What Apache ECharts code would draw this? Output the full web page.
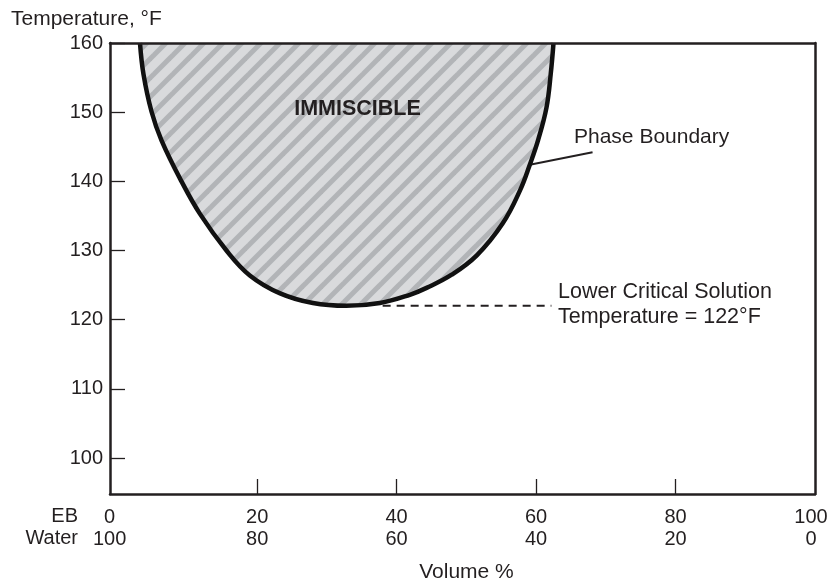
<!DOCTYPE html>
<html>
<head>
<meta charset="utf-8">
<title>Ethylbenzene / Water Miscibility</title>
<script src="https://cdn.jsdelivr.net/npm/echarts@6/dist/echarts.min.js"></script>
<style>
  html, body { margin: 0; padding: 0; background: #ffffff; }
  #chart { width: 827px; height: 581px; }
</style>
</head>
<body>
<div id="chart"></div>
<script>
// Axis ranges (volume % EB on x, temperature °F on y)
const X_MIN = -1.1;
const X_MAX = 100;
const Y_MIN = 94.8;
const Y_MAX = 160;

// Tick labels: EB volume % (top row) and water volume % (bottom row)
const ebTicks = [0, 20, 40, 60, 80, 100];
const waterTicks = [100, 80, 60, 40, 20, 0];
const xTickMarks = [20, 40, 60, 80];
const tempTicks = [100, 110, 120, 130, 140, 150, 160];

// Phase boundary: [volume % EB, temperature °F]
const boundaryEB = [3.2, 3.7, 4.85, 6.3, 9.15, 11.8, 15.6, 18.95, 23.3, 28.0, 32.8, 37.6, 41.9, 44.3, 47.9, 51.5, 55.2, 57.7, 59.1, 60.3, 61.5, 62.1, 62.5];
const boundaryTemp = [160, 155.5, 150.1, 145.9, 140.0, 135.3, 130.0, 126.4, 123.8, 122.4, 122.0, 122.4, 123.6, 124.6, 126.5, 129.3, 133.9, 138.7, 142.4, 146.0, 150.7, 155.5, 160];

// Lower critical solution temperature and its dashed guide span
const lcst = 122;
const lcstGuideEB = [38.0, 62.2];

// Leader from the boundary to its caption
const leaderEB = [59.1, 68.1];
const leaderTemp = [142.4, 144.2];

const INK = '#231f20';
const FONT = '"Liberation Sans", Arial, Helvetica, sans-serif';

// Diagonal hatch tile for the immiscible region
function hatchTile() {
  const s = 19;
  const c = document.createElement('canvas');
  c.width = s; c.height = s;
  const g = c.getContext('2d');
  g.fillStyle = '#d9dadc';
  g.fillRect(0, 0, s, s);
  g.strokeStyle = '#b2b4b7';
  g.lineWidth = 5;
  for (let k = -1; k <= 1; k++) {
    g.beginPath();
    g.moveTo(k * s - 2, s + 2);
    g.lineTo(k * s + s + 2, -2);
    g.stroke();
  }
  return c;
}

const boundary = boundaryEB.map((x, i) => [x, boundaryTemp[i]]);
const lcstGuide = lcstGuideEB.map(x => [x, lcst]);
const leader = leaderEB.map((x, i) => [x, leaderTemp[i]]);

const chart = echarts.init(document.getElementById('chart'), null, { renderer: 'canvas' });

// The end labels are nudged so they sit on the frame corners
const labelRich = {
  m: { fontSize: 20, lineHeight: 22, color: INK, fontFamily: FONT },
  first: { fontSize: 20, lineHeight: 22, color: INK, fontFamily: FONT, padding: [0, 16, 0, 0] },
  last: { fontSize: 20, lineHeight: 22, color: INK, fontFamily: FONT, padding: [0, 8, 0, 0] }
};

const option = {
  animation: false,
  backgroundColor: '#ffffff',
  textStyle: { fontFamily: FONT, color: INK },
  grid: { left: 110, right: 12, top: 43, bottom: 87, containLabel: false, outerBoundsMode: 'none' },
  xAxis: [
    {
      type: 'value', position: 'bottom', min: X_MIN, max: X_MAX, z: 10,
      axisLine: { show: true, onZero: false, lineStyle: { color: INK, width: 2.5 } },
      axisTick: { show: true, inside: true, length: 15, customValues: xTickMarks, lineStyle: { color: INK, width: 1.3 } },
      axisLabel: {
        show: true, customValues: ebTicks, margin: 12.5,
        fontSize: 20, lineHeight: 22, color: INK, fontFamily: FONT, rich: labelRich,
        formatter: v => {
          const i = ebTicks.indexOf(v);
          const key = i === 0 ? 'first' : (i === ebTicks.length - 1 ? 'last' : 'm');
          return '{' + key + '|' + ebTicks[i] + '}\n{' + key + '|' + waterTicks[i] + '}';
        }
      },
      splitLine: { show: false },
      name: 'Volume %', nameLocation: 'middle', nameGap: 68, nameMoveOverlap: false,
      nameTextStyle: { fontSize: 21, color: INK, fontFamily: FONT, padding: [0, 0, 0, 8] }
    },
    {
      type: 'value', position: 'top', min: X_MIN, max: X_MAX, z: 10,
      axisLine: { show: true, onZero: false, lineStyle: { color: INK, width: 2.5 } },
      axisTick: { show: false }, axisLabel: { show: false }, splitLine: { show: false }
    }
  ],
  yAxis: [
    {
      type: 'value', position: 'left', min: Y_MIN, max: Y_MAX, z: 10,
      axisLine: { show: true, onZero: false, lineStyle: { color: INK, width: 2.5 } },
      axisTick: { show: true, inside: true, length: 15, customValues: tempTicks, lineStyle: { color: INK, width: 1.3 } },
      axisLabel: { show: true, customValues: tempTicks, margin: 7, fontSize: 20, color: INK, fontFamily: FONT },
      splitLine: { show: false }
    },
    {
      type: 'value', position: 'right', min: Y_MIN, max: Y_MAX, z: 10,
      axisLine: { show: true, onZero: false, lineStyle: { color: INK, width: 2.5 } },
      axisTick: { show: false }, axisLabel: { show: false }, splitLine: { show: false }
    }
  ],
  series: [
    {
      name: 'Phase Boundary', type: 'line', xAxisIndex: 0, yAxisIndex: 0,
      data: boundary, smooth: 0.4, symbol: 'none', z: 3,
      lineStyle: { color: '#111111', width: 4.5 },
      areaStyle: { origin: 'end', color: { image: hatchTile(), repeat: 'repeat' }, opacity: 1 }
    },
    {
      name: 'LCST', type: 'line', xAxisIndex: 0, yAxisIndex: 0,
      data: lcstGuide, symbol: 'none', z: 2,
      lineStyle: { color: INK, width: 2, type: [8, 6] }
    },
    {
      name: 'Leader', type: 'line', xAxisIndex: 0, yAxisIndex: 0,
      data: leader, symbol: 'none', z: 2,
      lineStyle: { color: INK, width: 2 }
    }
  ],
  graphic: [
    { type: 'text', left: 11, top: 9, style: { text: 'Temperature, °F', font: '21px ' + FONT, fill: INK } },
    { type: 'text', x: 357.5, y: 109.5, z: 20, style: { text: 'IMMISCIBLE', font: 'bold 21.5px ' + FONT, fill: INK, align: 'center', verticalAlign: 'middle' } },
    { type: 'text', x: 574, y: 137.5, style: { text: 'Phase Boundary', font: '21px ' + FONT, fill: INK, align: 'left', verticalAlign: 'middle' } },
    { type: 'text', x: 558, y: 292.5, style: { text: 'Lower Critical Solution', font: '21.5px ' + FONT, fill: INK, align: 'left', verticalAlign: 'middle' } },
    { type: 'text', x: 558, y: 317.5, style: { text: 'Temperature = 122°F', font: '21.5px ' + FONT, fill: INK, align: 'left', verticalAlign: 'middle' } },
    { type: 'text', x: 78, y: 516.5, style: { text: 'EB', font: '20px ' + FONT, fill: INK, align: 'right', verticalAlign: 'middle' } },
    { type: 'text', x: 78, y: 538.5, style: { text: 'Water', font: '20px ' + FONT, fill: INK, align: 'right', verticalAlign: 'middle' } }
  ]
};

chart.setOption(option);
</script>
</body>
</html>
